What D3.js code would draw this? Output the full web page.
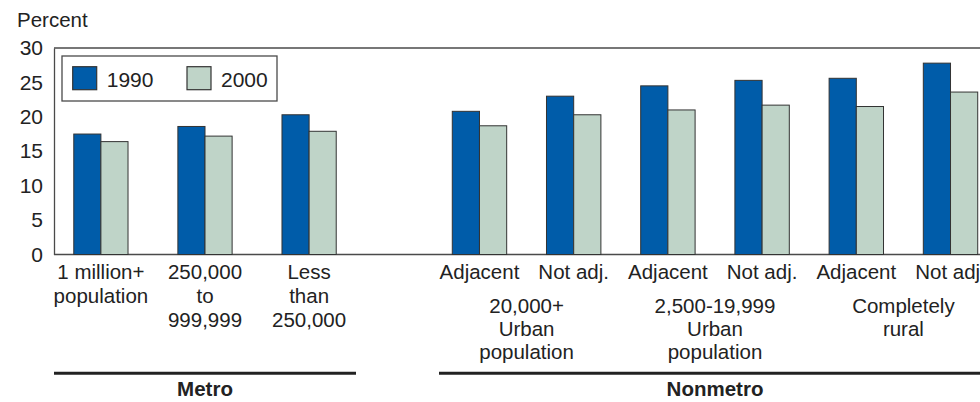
<!DOCTYPE html>
<html>
<head>
<meta charset="utf-8">
<script src="https://cdn.jsdelivr.net/npm/d3@7"></script>
<style>
  body { margin: 0; background: #fff; }
  svg { display: block; }
</style>
</head>
<body>
<svg id="chart"></svg>
<script>
// ---- data ----
const years = ["1990", "2000"];
const yTicks = [0, 5, 10, 15, 20, 25, 30];

const metroCategories = ["1 million+\npopulation", "250,000\nto\n999,999", "Less\nthan\n250,000"];
const metro1990 = [17.5, 18.6, 20.3];
const metro2000 = [16.4, 17.2, 17.9];

const nonmetroCategories = ["Adjacent", "Not adj.", "Adjacent", "Not adj.", "Adjacent", "Not adj."];
const nonmetroGroups = ["20,000+\nUrban\npopulation", "2,500-19,999\nUrban\npopulation", "Completely\nrural"];
const nonmetro1990 = [20.8, 23.0, 24.5, 25.3, 25.6, 27.8];
const nonmetro2000 = [18.7, 20.3, 21.0, 21.7, 21.5, 23.6];

const sectionNames = ["Metro", "Nonmetro"];

// ---- layout ----
const width = 980, height = 402;
const font = "'Liberation Sans', Arial, Helvetica, sans-serif";
const colors = { "1990": "#005ca9", "2000": "#bfd4c8" };
const frameColor = "#4a4a4a";
const textColor = "#222";

const svg = d3.select("#chart")
    .attr("width", width)
    .attr("height", height)
    .attr("viewBox", [0, 0, width, height]);

const plot = { left: 54, right: 991, top: 48, bottom: 254.5 };

const y = d3.scaleLinear().domain([0, 30]).range([plot.bottom, plot.top]);

// one band scale per section, spacing differs between them
const xMetro = d3.scaleBand()
    .domain(d3.range(metroCategories.length))
    .range([54, 356])
    .paddingInner(0.479)
    .paddingOuter(0.19);

const xNonmetro = d3.scaleBand()
    .domain(d3.range(nonmetroCategories.length))
    .range([439, 991])
    .paddingInner(0.4225)
    .paddingOuter(0.141);

const sections = [
    { name: sectionNames[0], x: xMetro, labels: metroCategories, values: [metro1990, metro2000] },
    { name: sectionNames[1], x: xNonmetro, labels: nonmetroCategories, values: [nonmetro1990, nonmetro2000] }
];

// ---- frame & axis ----
svg.append("g")
    .attr("transform", `translate(${plot.left},0)`)
    .call(d3.axisLeft(y).tickValues(yTicks).tickSize(0).tickPadding(11))
    .call(g => g.select(".domain").attr("stroke", frameColor).attr("stroke-width", 1.3))
    .call(g => g.selectAll("text")
        .attr("fill", textColor)
        .attr("font-family", font)
        .attr("font-size", 21));

svg.append("g")
    .selectAll("line")
    .data([30, 0])
    .join("line")
    .attr("x1", plot.left)
    .attr("x2", plot.right)
    .attr("y1", d => y(d))
    .attr("y2", d => y(d))
    .attr("stroke", frameColor)
    .attr("stroke-width", 1.3);

svg.append("text")
    .attr("x", 17)
    .attr("y", 27)
    .attr("fill", textColor)
    .attr("font-family", font)
    .attr("font-size", 20.5)
    .text("Percent");

// ---- bars ----
sections.forEach(sec => {
    const inner = d3.scaleBand().domain(years).range([0, sec.x.bandwidth()]);
    const rows = sec.labels.map((lab, i) => ({ i, vals: years.map((yr, k) => ({ yr, v: sec.values[k][i] })) }));

    const g = svg.append("g").attr("class", "bars");
    g.selectAll("g")
        .data(rows)
        .join("g")
        .attr("transform", d => `translate(${sec.x(d.i)},0)`)
        .selectAll("rect")
        .data(d => d.vals)
        .join("rect")
        .attr("x", d => inner(d.yr))
        .attr("width", inner.bandwidth())
        .attr("y", d => y(d.v))
        .attr("height", d => y(0) - y(d.v))
        .attr("fill", d => colors[d.yr])
        .attr("stroke", "#333")
        .attr("stroke-width", 1);

    // category labels
    const lab = svg.append("g")
        .attr("font-family", font)
        .attr("font-size", 20.5)
        .attr("fill", textColor)
        .attr("text-anchor", "middle");
    lab.selectAll("text")
        .data(sec.labels)
        .join("text")
        .attr("x", (d, i) => sec.x(i) + sec.x.bandwidth() / 2)
        .attr("y", 278.5)
        .selectAll("tspan")
        .data(d => d.split("\n"))
        .join("tspan")
        .attr("x", function () { return d3.select(this.parentNode).attr("x"); })
        .attr("dy", (d, j) => j === 0 ? 0 : 24)
        .text(d => d);
});

// nonmetro subgroup labels, centred under each adjacent / not adj. pair
svg.append("g")
    .attr("font-family", font)
    .attr("font-size", 20.5)
    .attr("fill", textColor)
    .attr("text-anchor", "middle")
    .selectAll("text")
    .data(nonmetroGroups)
    .join("text")
    .attr("x", (d, i) => (xNonmetro(2 * i) + xNonmetro(2 * i + 1) + xNonmetro.bandwidth()) / 2)
    .attr("y", 312.5)
    .selectAll("tspan")
    .data(d => d.split("\n"))
    .join("tspan")
    .attr("x", function () { return d3.select(this.parentNode).attr("x"); })
    .attr("dy", (d, j) => j === 0 ? 0 : 23)
    .text(d => d);

// ---- section rules & names ----
const sectionSpans = [[54, 356], [439, 991]];
svg.append("g")
    .selectAll("line")
    .data(sectionSpans)
    .join("line")
    .attr("x1", d => d[0])
    .attr("x2", d => d[1])
    .attr("y1", 373.3)
    .attr("y2", 373.3)
    .attr("stroke", "#222")
    .attr("stroke-width", 3);

svg.append("g")
    .attr("font-family", font)
    .attr("font-size", 20.5)
    .attr("font-weight", "bold")
    .attr("fill", textColor)
    .attr("text-anchor", "middle")
    .selectAll("text")
    .data(sections)
    .join("text")
    .attr("x", (d, i) => (sectionSpans[i][0] + sectionSpans[i][1]) / 2)
    .attr("y", 396)
    .text(d => d.name);

// ---- legend ----
const legend = svg.append("g").attr("transform", "translate(62,56)");
legend.append("rect")
    .attr("width", 215)
    .attr("height", 45)
    .attr("fill", "#fff")
    .attr("stroke", frameColor)
    .attr("stroke-width", 1.3);

const item = legend.selectAll("g")
    .data(years)
    .join("g")
    .attr("transform", (d, i) => `translate(${10.7 + i * 114.3},10.7)`);
item.append("rect")
    .attr("width", 24)
    .attr("height", 23)
    .attr("fill", d => colors[d])
    .attr("stroke", "#333")
    .attr("stroke-width", 1.2);
item.append("text")
    .attr("x", 34)
    .attr("y", 20.5)
    .attr("fill", textColor)
    .attr("font-family", font)
    .attr("font-size", 21)
    .text(d => d);
</script>
</body>
</html>
